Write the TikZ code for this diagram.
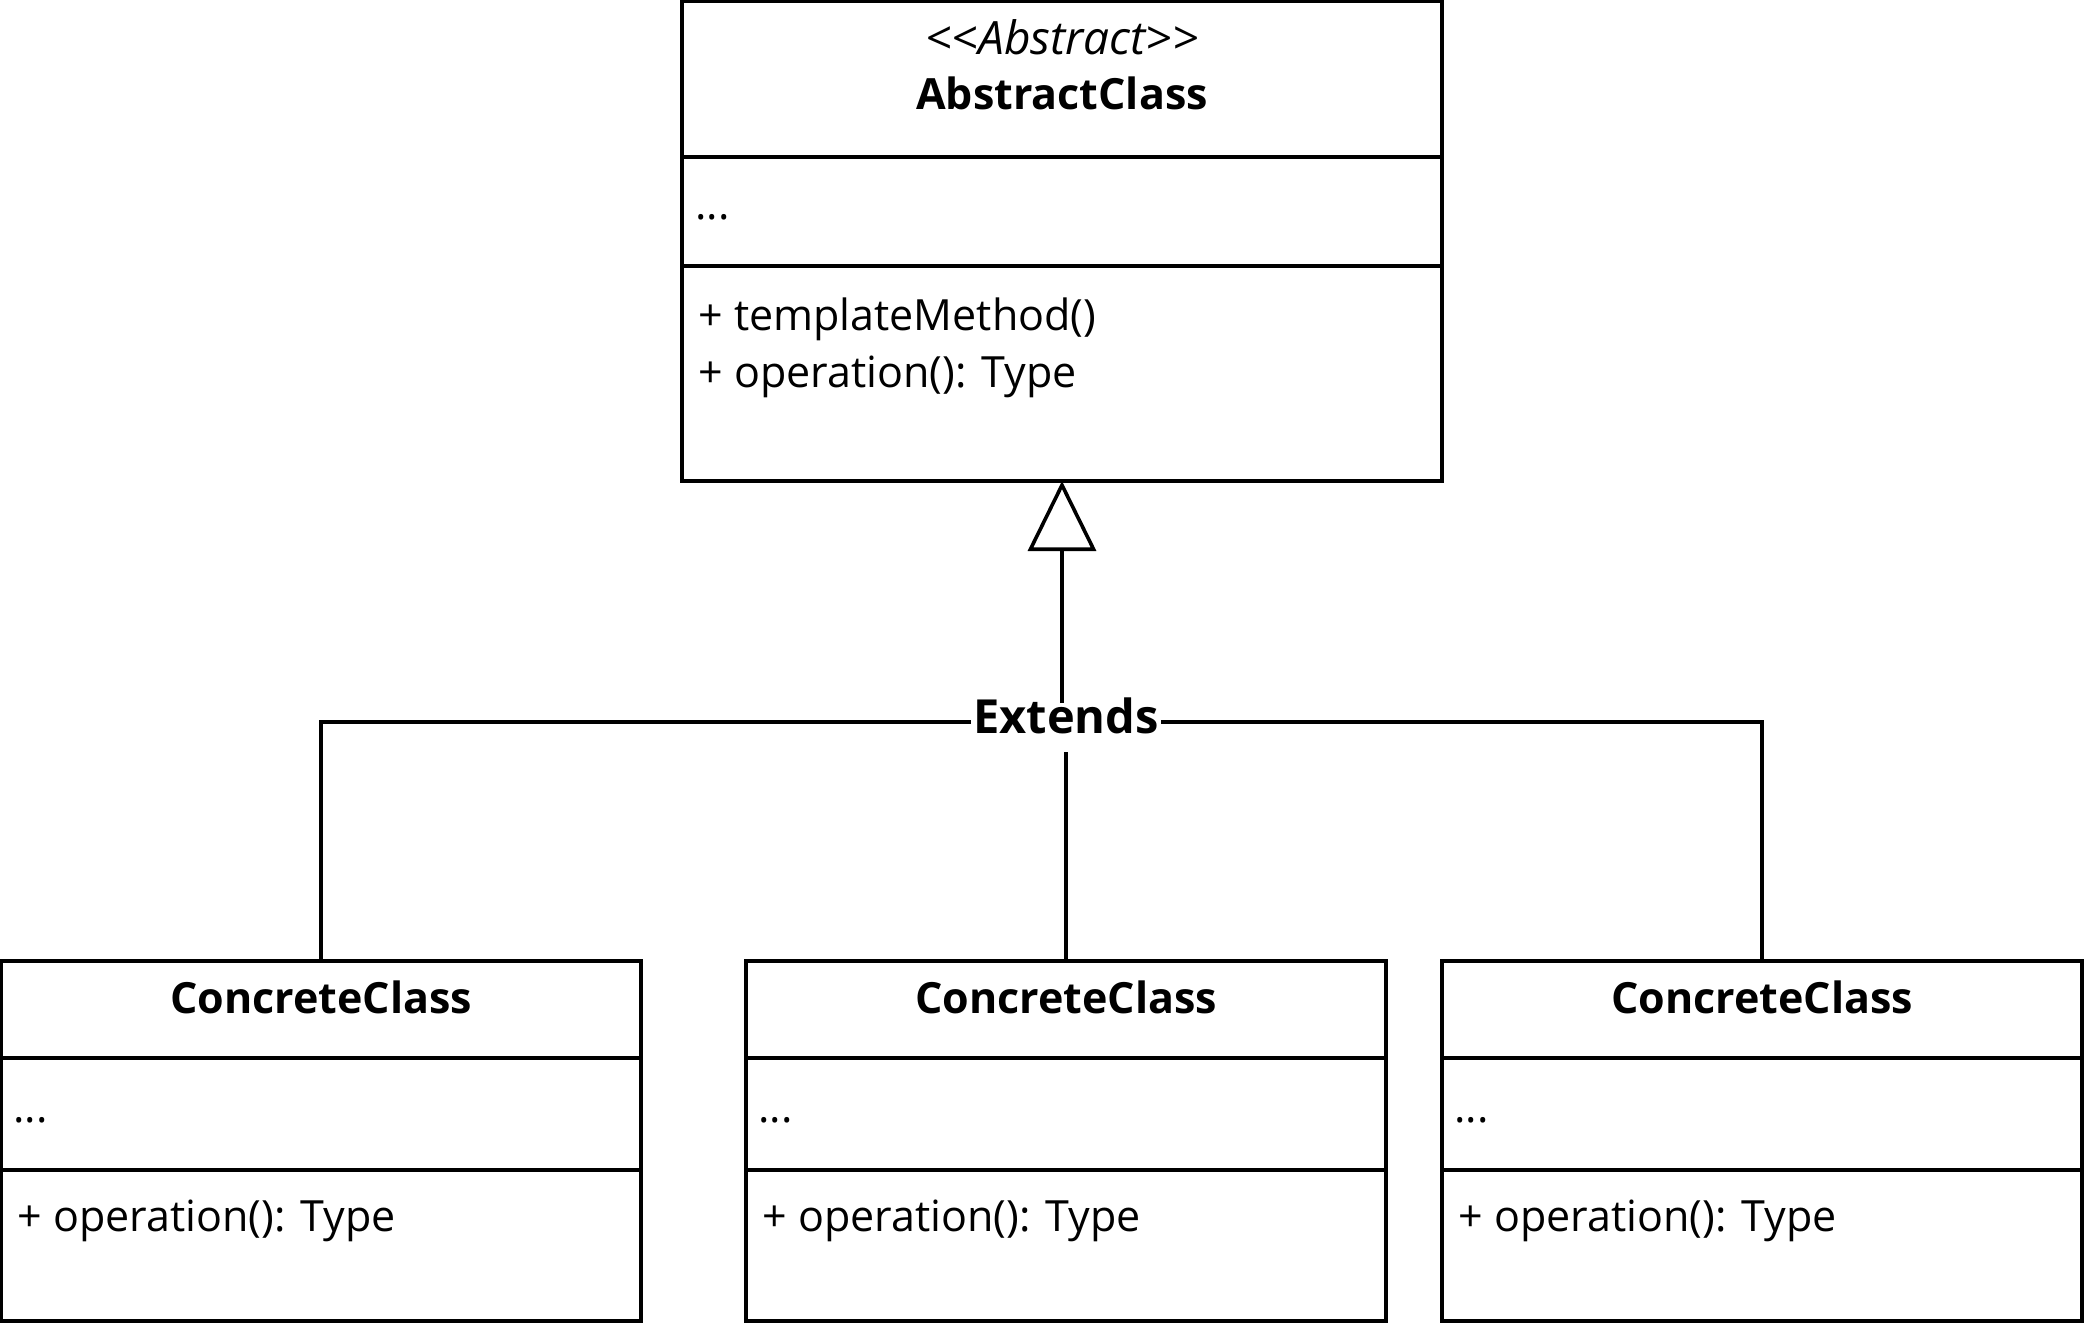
\documentclass[tikz,border=0pt]{standalone}
\usepackage{fontspec}
\setmainfont{Open Sans}
\usetikzlibrary{arrows.meta}

\tikzset{
  umlbox/.style={draw, line width=1.8pt, anchor=north west, inner sep=0pt, outer sep=0pt},
  umltext/.style={font=\fontsize{21.5}{29}\selectfont, inner sep=0pt},
  umltitle/.style={umltext, font=\fontsize{21.5}{29}\selectfont\bfseries},
  member/.style={umltext, anchor=west},
  gen/.style={line width=1.8pt, -{Triangle[open, length=35pt, width=34pt]}},
}

\begin{document}
\begin{tikzpicture}[x=0.5pt, y=-0.5pt]
	\useasboundingbox (0,0) rectangle (2084,1324);

	% abstract class
	\node[umlbox, minimum width=380pt, minimum height=78pt] (headA) at (682,1) {};
	\node[umlbox, minimum width=380pt, minimum height=54.5pt] (attrA) at (headA.south west) {};
	\node[umlbox, minimum width=380pt, minimum height=107.5pt] (methA) at (attrA.south west) {};
	\node[umltext, font=\fontsize{23}{29}\selectfont\itshape] (stereoA) at (1062,37) {<{}<Abstract>{}>};
	\node[umltitle] (titleA) at (1062,93) {AbstractClass};
	\node[member] (dotsA) at ([xshift=6.5pt, yshift=-3pt]attrA.west) {...};
	\node[member] (tmplA) at ([xshift=8pt, yshift=-26.5pt]methA.north west) {+ templateMethod()};
	\node[member] (opA) at ([xshift=8pt, yshift=-55.5pt]methA.north west) {+ operation(): Type};

	% concrete classes
	\foreach \x/\n in {1/L, 746/M, 1442/R}{
		\node[umlbox, minimum width=320pt, minimum height=48.5pt] (head\n) at (\x,961) {};
		\node[umlbox, minimum width=320pt, minimum height=56pt] (attr\n) at (head\n.south west) {};
		\node[umlbox, minimum width=320pt, minimum height=75.5pt] (meth\n) at (attr\n.south west) {};
		\node[umltitle] (title\n) at ([yshift=6pt]head\n.center) {ConcreteClass};
		\node[member] (dots\n) at ([xshift=6pt, yshift=-3pt]attr\n.west) {...};
		\node[member] (op\n) at ([xshift=8pt, yshift=-25.5pt]meth\n.north west) {+ operation(): Type};
	}

	% generalisation
	\coordinate (bus) at (1064,722);
	\draw[line width=1.8pt] (headL.north) |- (bus) -| (headR.north);
	\node[umltitle, font=\fontsize{23.5}{29}\selectfont\bfseries, fill=white, inner xsep=1pt, inner ysep=3pt] (ext) at (1066,716) {Extends};
	\coordinate (jtop) at (methA.south |- 0,703);
	\coordinate (jbot) at (headM.north |- 0,752);
	\draw[gen] (jtop) -- (methA.south);
	\draw[line width=1.8pt] (headM.north) -- (jbot);
\end{tikzpicture}
\end{document}
